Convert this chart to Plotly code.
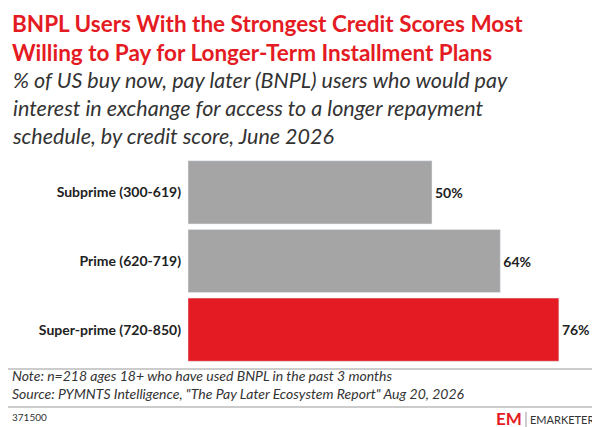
import plotly.graph_objects as go

categories = ["Subprime (300-619)", "Prime (620-719)", "Super-prime (720-850)"]
values = [50, 64, 76]
colors = ["#a5a5a5", "#a5a5a5", "#e41b23"]

W, H = 600, 427
L, R, T, B = 180, 0, 150, 356
fig = go.Figure(go.Bar(
    y=categories, x=values, orientation="h", marker_color=colors,
    text=[f"<b>{v}%</b>" for v in values], textposition="outside",
    textfont=dict(size=14, color="#222", family="Lato"), cliponaxis=False,
))
fig.update_layout(
    width=W, height=H, paper_bgcolor="white", plot_bgcolor="white",
    margin=dict(l=L, r=R, t=T, b=H-B),
    bargap=0.08, showlegend=False,
    font=dict(family="Lato", color="#222"),
    xaxis=dict(range=[0, (W-L-R)/4.88], visible=False),
    yaxis=dict(autorange="reversed", showline=False, ticks="",
               tickvals=categories, ticktext=[f"<b>{c}</b>" for c in categories],
               tickfont=dict(size=14, color="#222"), ticklabelstandoff=6),
)
def px(x): return (x-L)/(W-L-R)
def py(y): return 1 - (y-T)/(B-T)
ann = [
    dict(x=px(2), y=py(0), text="<b>BNPL Users With the Strongest Credit Scores Most<br>Willing to Pay for Longer-Term Installment Plans</b>",
         font=dict(size=22.5, color="#e41b23"), align="left"),
    dict(x=px(2), y=py(57), text="<i>% of US buy now, pay later (BNPL) users who would pay<br>interest in exchange for access to a longer repayment<br>schedule, by credit score, June 2026</i>",
         font=dict(size=21.5, color="#333"), align="left"),
    dict(x=px(2), y=py(357), text="<i>Note: n=218 ages 18+ who have used BNPL in the past 3 months<br>Source: PYMNTS Intelligence, \"The Pay Later Ecosystem Report\" Aug 20, 2026</i>",
         font=dict(size=14, color="#333"), align="left"),
    dict(x=px(2), y=py(401), text="371500", font=dict(size=10, color="#333")),
    dict(x=px(516), y=py(398), text="<b>EM</b>", font=dict(size=17, color="#e41b23"), xanchor="right"),
    dict(x=px(520), y=py(403), text="EMARKETER", font=dict(size=11, color="#333")),
]
for a in ann:
    a.setdefault("xanchor", "left")
    a.update(xref="paper", yref="paper", yanchor="top", showarrow=False)
fig.update_layout(annotations=ann, shapes=[
    dict(type="line", xref="paper", yref="paper", x0=px(0), x1=px(W), y0=py(361), y1=py(361), line=dict(color="#999", width=1)),
    dict(type="line", xref="paper", yref="paper", x0=px(0), x1=px(W), y0=py(399), y1=py(399), line=dict(color="#999", width=1)),
    dict(type="line", xref="paper", yref="paper", x0=px(518), x1=px(518), y0=py(404), y1=py(420), line=dict(color="#999", width=1)),
])
fig.write_html("out.html")
